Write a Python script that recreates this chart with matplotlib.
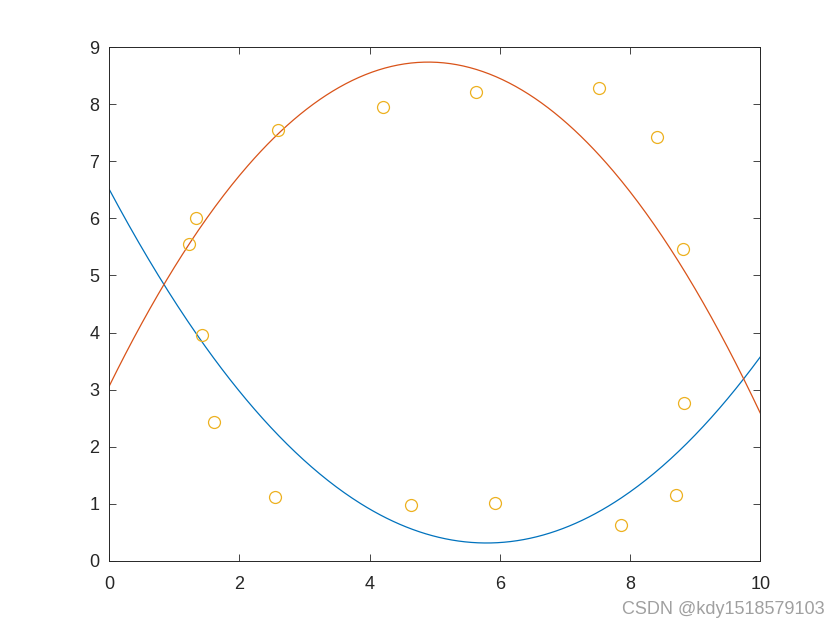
import numpy as np
import matplotlib.pyplot as plt

# measured points (orange circles)
px = [1.23, 1.34, 2.60, 4.21, 5.63, 7.52, 8.41, 8.82, 8.83, 8.70, 7.86, 5.92, 4.63, 2.55, 1.61, 1.43]
py = [5.56, 6.00, 7.55, 7.96, 8.21, 8.28, 7.42, 5.47, 2.76, 1.15, 0.62, 1.02, 0.97, 1.12, 2.43, 3.95]

# quadratic fits (highest power first)
upper_coef = [-0.2365, 2.318, 3.06]
lower_coef = [0.1845, -2.139, 6.51]

plt.rcParams['font.family'] = ['Liberation Sans', 'DejaVu Sans']

fig = plt.figure(figsize=(8.4, 6.3), dpi=100)
ax = fig.add_axes([0.13, 0.11, 0.775, 0.815])

xx = np.linspace(0, 10, 400)
ax.plot(xx, np.polyval(lower_coef, xx), color='#0072BD', lw=0.9)
ax.plot(xx, np.polyval(upper_coef, xx), color='#D95319', lw=0.9)
ax.plot(px, py, 'o', mfc='none', mec='#EDB120', ms=8.6, mew=0.9)

ax.set_xlim(0, 10)
ax.set_ylim(0, 9)
ax.set_xticks(range(0, 11, 2))
ax.set_yticks(range(0, 10))
ax.tick_params(direction='in', top=True, right=True, length=5, width=0.6,
               color='#262626', labelcolor='#262626', labelsize=13)
ax.tick_params(axis='x', pad=11)
ax.tick_params(axis='y', pad=7)
for s in ax.spines.values():
    s.set_color('#262626')
    s.set_linewidth(0.7)

fig.text(0.982, 0.032, 'CSDN @kdy1518579103', color='#a0a0a0', fontsize=13,
         ha='right', va='center')

fig.savefig('out.png', dpi=100)
